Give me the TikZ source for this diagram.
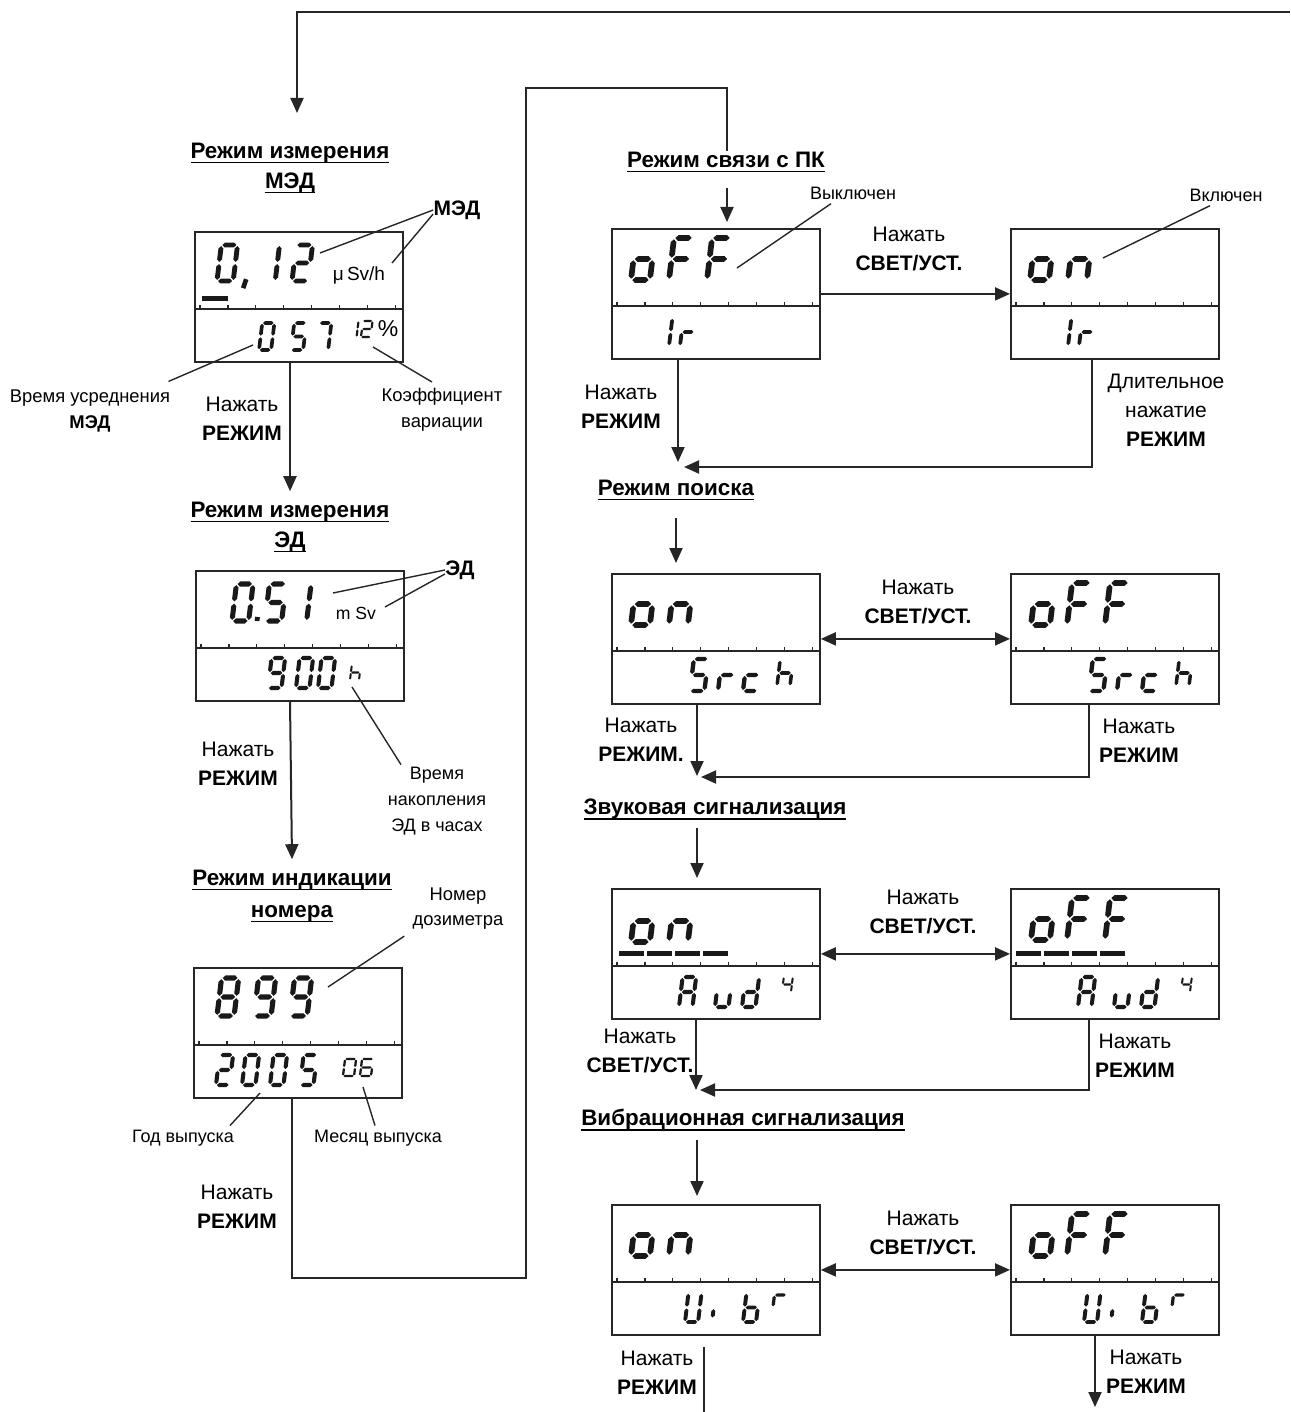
\documentclass[tikz,border=0pt]{standalone}
\usepackage{fontspec}
\setmainfont{Liberation Sans}
\usetikzlibrary{arrows.meta,calc}

\newcommand\myul[1]{\setbox0\hbox{#1}\leavevmode\rlap{\rule[-2.7pt]{\wd0}{0.9pt}}\box0}

% tapered LCD segments (units: width 1, height 2)
\newcommand\lcdHseg[1]{\fill[lcdfill] (\lcdgx,#1) -- (\lcdgx+\lcdhx,#1+\lcdhy) -- (1-\lcdgx-\lcdhx,#1+\lcdhy) -- (1-\lcdgx,#1) -- (1-\lcdgx-\lcdhx,#1-\lcdhy) -- (\lcdgx+\lcdhx,#1-\lcdhy) -- cycle;}
\newcommand\lcdVseg[3]{\fill[lcdfill] (#1,#2+\lcdgy) -- (#1+\lcdhx,#2+\lcdgy+\lcdhy) -- (#1+\lcdhx,#3-\lcdgy-\lcdhy) -- (#1,#3-\lcdgy) -- (#1-\lcdhx,#3-\lcdgy-\lcdhy) -- (#1-\lcdhx,#2+\lcdgy+\lcdhy) -- cycle;}
\def\lcdsega{\lcdHseg{2}}
\def\lcdsegd{\lcdHseg{0}}
\def\lcdsegg{\lcdHseg{1}}
\def\lcdsegb{\lcdVseg{1}{1}{2}}
\def\lcdsegc{\lcdVseg{1}{0}{1}}
\def\lcdsege{\lcdVseg{0}{0}{1}}
\def\lcdsegf{\lcdVseg{0}{1}{2}}
\def\lcdsegi{\lcdVseg{0}{0.25}{0.95}}
\def\lcdsegk{\draw[lcdst] (0,0.1)--(-0.12,-0.4);}
\def\lcdsegp{\draw[lcdst] (0,0)--(0,0.22);}

% [width factor]{box}{dx}{dy baseline}{height}{segments}
\newcommand\lcd[6][0.45]{%
  \pgfmathsetmacro\lcdux{#5*#1*0.5}%
  \pgfmathsetmacro\lcduy{#5*0.25}%
  \pgfmathsetmacro\lcdlw{#5*0.065}%
  \pgfmathsetmacro\lcdhx{0.068/#1}%
  \def\lcdhy{0.136}%
  \pgfmathsetmacro\lcdgx{0.03/#1}%
  \def\lcdgy{0.06}%
  \begin{scope}[shift={($(#2.north west)+(#3,#4)$)}, xslant=0.12, x=\lcdux pt, y=\lcduy pt, line width=\lcdlw pt]
    \foreach \s in {#6}{\csname lcdseg\s\endcsname}
  \end{scope}}

\newcommand\lcdbox[3]{%
  \node[lcdframe] (#1) at (#2,#3) {};
  \draw[lcddiv] ($(#1.north west)+(0,78)$) -- ($(#1.north east)+(0,78)$);
  \foreach \i in {0,...,7}{\draw[lcdtick] ($(#1.north west)+(6+\i*27.9,78)$) -- ++(0,-4);}
}

\tikzset{
  lcdframe/.style={draw=black!85, line width=0.9pt, minimum width=104pt, minimum height=65pt, inner sep=0pt, anchor=north west},
  lcddiv/.style={draw=black!85, line width=1.1pt},
  lcdtick/.style={draw=black!85, line width=0.6pt},
  lcdst/.style={draw=black!90, line cap=butt},
  lcdfill/.style={fill=black!90},
  lcdbar/.style={draw=black!90, line width=2.5pt},
  conn/.style={draw=black!85, line width=1pt},
  arr/.style={conn, -{Triangle[length=7.5pt,width=6.5pt]}},
  darr/.style={conn, {Triangle[length=7.5pt,width=6.5pt]}-{Triangle[length=7.5pt,width=6.5pt]}},
  lead/.style={draw=black!85, line width=0.7pt},
  act/.style={font=\fontsize{10.5}{14.5}\selectfont, align=center, inner sep=0pt},
  notetxt/.style={font=\fontsize{9.2}{13}\selectfont, align=center, inner sep=0pt},
  smalltxt/.style={font=\fontsize{9}{13}\selectfont, align=center, inner sep=0pt},
  ttl/.style={font=\bfseries\fontsize{11.2}{15}\selectfont, align=center, inner sep=0pt},
  bl/.style={font=\bfseries\fontsize{10.5}{14}\selectfont, inner sep=0pt},
}

\begin{document}
\begin{tikzpicture}[x=0.5pt, y=-0.5pt]
\useasboundingbox (0,0) rectangle (1290,1412);

% ---------------- left column ----------------
\node[ttl] (t1) at (290,168) {\myul{Режим измерения}\\\myul{МЭД}};
\lcdbox{m}{194}{231}
\lcd{m}{23}{50}{36}{a,b,c,d,e,f}
\lcd{m}{52}{50}{36}{k}
\lcd{m}{65}{50}{36}{b,c}
\lcd{m}{98}{50}{36}{a,b,g,e,d}
\draw[lcdbar] ($(m.north west)+(8,67)$) -- ($(m.north west)+(34,67)$);
\node[font=\fontsize{9.5}{11}\selectfont, inner sep=0pt] (uM) at (359,275) {μ\,Sv/h};
\lcd{m}{65}{119}{27}{a,b,c,d,e,f}
\lcd{m}{97}{119}{27}{a,f,g,c,d}
\lcd{m}{122}{119}{27}{a,b,c}
\lcd[0.6]{m}{153}{106}{16}{b,c}
\lcd[0.6]{m}{167}{106}{16}{a,b,g,e,d}
\node[font=\fontsize{11.5}{13}\selectfont, inner sep=0pt] (pc) at (388,329) {\%};

\node[bl] (lM) at (457,210) {МЭД};
\coordinate (pM1) at (320,253);
\coordinate (pM2) at (392,263);
\draw[lead] (lM.west) -- (pM1);
\draw[lead] ([yshift=-2pt]lM.west) -- (pM2);

\node[notetxt] (lVU) at (90,411) {Время усреднения\\\textbf{МЭД}};
\coordinate (pVU) at (253,345);
\draw[lead] (pVU) -- ($(lVU.north east)+(-2,-8)$);
\node[notetxt] (lKV) at (442,410) {Коэффициент\\вариации};
\coordinate (pKV) at (373,347);
\draw[lead] (pKV) -- ($(lKV.north)+(-10,-6)$);
\node[act] (a1) at (242,419) {Нажать\\\textbf{РЕЖИМ}};

\node[ttl] (t2) at (290,527) {\myul{Режим измерения}\\\myul{ЭД}};
\draw[arr] (m.south -| t2) -- ($(t2.north)+(0,-10)$);

\lcdbox{e}{195}{570}
\lcd{e}{37}{51}{37}{a,b,c,d,e,f}
\lcd{e}{62}{51}{37}{p}
\lcd{e}{70}{51}{37}{a,f,g,c,d}
\lcd{e}{95}{51}{37}{b,c}
\node[font=\fontsize{8.8}{10}\selectfont, inner sep=0pt] (uE) at (356,613) {m Sv};
\lcd{e}{73}{118}{30}{a,b,c,d,f,g}
\lcd{e}{101}{118}{30}{a,b,c,d,e,f}
\lcd{e}{123}{118}{30}{a,b,c,d,e,f}
\lcd[0.6]{e}{155}{110}{15}{f,e,g,c}

\node[bl] (lE) at (460,570) {ЭД};
\coordinate (pE1) at (333,593);
\coordinate (pE2) at (385,607);
\draw[lead] (lE.west) -- (pE1);
\draw[lead] ([yshift=-2pt]lE.west) -- (pE2);
\node[smalltxt] (lT) at (437,801) {Время\\накопления\\ЭД в часах};
\coordinate (pT) at (352,687);
\draw[lead] (pT) -- ($(lT.north)+(-36,-2)$);
\node[act] (a2) at (238,764) {Нажать\\\textbf{РЕЖИМ}};

\node[ttl, font=\bfseries\fontsize{11.2}{16}\selectfont] (t3) at (292,896) {\myul{Режим индикации}\\\myul{номера}};
\draw[arr] (e.south -| t2) -- ($(t3.north)+(0,-10)$);

\lcdbox{n}{193}{967}
\lcd{n}{24}{49}{38}{a,b,c,d,e,f,g}
\lcd{n}{61}{49}{38}{a,b,c,d,f,g}
\lcd{n}{97}{49}{38}{a,b,c,d,f,g}
\lcd{n}{23}{118}{30}{a,b,g,e,d}
\lcd{n}{49}{118}{30}{a,b,c,d,e,f}
\lcd{n}{77}{118}{30}{a,b,c,d,e,f}
\lcd{n}{107}{118}{30}{a,f,g,c,d}
\lcd[0.65]{n}{150}{109}{17}{a,b,c,d,e,f}
\lcd[0.65]{n}{167}{109}{17}{a,f,g,e,c,d}

\node[notetxt, font=\fontsize{9.2}{12.5}\selectfont] (lNd) at (458,909) {Номер\\дозиметра};
\coordinate (pNd) at (328,987);
\draw[lead] (pNd) -- ($(lNd.south west)+(-8,6)$);
\node[smalltxt] (lG) at (183,1138) {Год выпуска};
\coordinate (pG) at (260,1093);
\draw[lead] (pG) -- ($(lG.north)+(47,-4)$);
\node[smalltxt] (lMs) at (378,1138) {Месяц выпуска};
\coordinate (pMs) at (363,1087);
\draw[lead] (pMs) -- ($(lMs.north)+(-3,-4)$);
\node[act] (a3) at (237,1207) {Нажать\\\textbf{РЕЖИМ}};

% ---------------- loop connectors ----------------
\coordinate (loopR) at (1290,12);
\coordinate (loopL) at (297,113);
\draw[arr] (loopR) -| (loopL);

\node[ttl] (t4) at (726,162) {\myul{Режим связи с ПК}};
\coordinate (b1) at (526,1278);
\coordinate (b2) at (727,88);
\draw[conn] (n.south -| t3) |- (b1) |- (b2) -- (t4.north -| b2);

% ---------------- right column ----------------
% row 1
\lcdbox{p1l}{611}{228}
\lcdbox{p1r}{1010}{228}
\coordinate (c1) at (727,188);
\draw[arr] (c1) -- ($(p1l.north -| c1)+(0,-6)$);
\lcd{p1l}{20}{52}{42}{g,c,d,e}
\lcd{p1l}{58}{52}{42}{a,f,g,e}
\lcd{p1l}{96}{52}{42}{a,f,g,e}
\lcd{p1l}{58}{118}{28}{e,f}
\lcd{p1l}{69}{118}{28}{e,g}
\lcd{p1r}{20}{52}{42}{g,c,d,e}
\lcd{p1r}{58}{52}{42}{e,g,c}
\lcd{p1r}{58}{118}{28}{e,f}
\lcd{p1r}{69}{118}{28}{e,g}
\draw[arr] (p1l.east) -- (p1r.west);
\node[act] (a4) at (909,249) {Нажать\\\textbf{СВЕТ/УСТ.}};
\node[smalltxt] (lOff) at (853,193) {Выключен};
\coordinate (pOff) at (737,268);
\draw[lead] ($(lOff.south)+(-22,4)$) -- (pOff);
\node[smalltxt] (lOn) at (1226,195) {Включен};
\coordinate (pOn) at (1103,258);
\draw[lead] ($(lOn.south)+(-16,4)$) -- (pOn);

\coordinate (d1) at (678,462);
\draw[arr] (p1l.south -| d1) -- (d1);
\coordinate (r1) at (1092,467);
\coordinate (d1b) at (684,467);
\draw[arr] (p1r.south -| r1) |- (d1b);
\node[act] (a5) at (621,407) {Нажать\\\textbf{РЕЖИМ}};
\node[act] (a6) at (1166,410) {Длительное\\нажатие\\\textbf{РЕЖИМ}};

% row 2
\node[ttl] (t5) at (676,490) {\myul{Режим поиска}};
\lcdbox{p2l}{611}{573}
\lcdbox{p2r}{1010}{573}
\coordinate (c2) at (676,518);
\draw[arr] (c2) -- ($(p2l.north -| c2)+(0,-10)$);
\lcd{p2l}{20}{52}{42}{g,c,d,e}
\lcd{p2l}{58}{52}{42}{e,g,c}
\lcd{p2l}{79}{118}{32}{a,f,g,c,d}
\lcd{p2l}{107}{118}{32}{e,g}
\lcd{p2l}{132}{118}{32}{g,e,d}
\lcd[0.5]{p2l}{166}{113}{26}{f,e,g,c}
\lcd{p2r}{21}{52}{42}{g,c,d,e}
\lcd{p2r}{57}{52}{42}{a,f,g,e}
\lcd{p2r}{95}{52}{42}{a,f,g,e}
\lcd{p2r}{79}{118}{32}{a,f,g,c,d}
\lcd{p2r}{107}{118}{32}{e,g}
\lcd{p2r}{132}{118}{32}{g,e,d}
\lcd[0.5]{p2r}{166}{113}{26}{f,e,g,c}
\draw[darr] (p2l.east) -- (p2r.west);
\node[act] (a7) at (918,602) {Нажать\\\textbf{СВЕТ/УСТ.}};
\coordinate (d2) at (697,776);
\draw[arr] (p2l.south -| d2) -- (d2);
\coordinate (r2) at (1089,777);
\coordinate (d2b) at (701,777);
\draw[arr] (p2r.south -| r2) |- (d2b);
\node[act] (a8) at (641,740) {Нажать\\\textbf{РЕЖИМ.}};
\node[act] (a9) at (1139,741) {Нажать\\\textbf{РЕЖИМ}};

% row 3
\node[ttl] (t6) at (715,809) {\myul{Звуковая сигнализация}};
\lcdbox{p3l}{611}{888}
\lcdbox{p3r}{1010}{888}
\coordinate (c3) at (697,828);
\draw[arr] (c3) -- ($(p3l.north -| c3)+(0,-10)$);
\lcd{p3l}{20}{54}{42}{g,c,d,e}
\lcd{p3l}{58}{54}{42}{e,g,c}
\foreach \k in {0,1,2,3}{\draw[lcdbar] ($(p3l.north west)+(8+\k*28,65)$) -- ++(25,0);}
\lcd{p3l}{68}{119}{30}{a,b,c,e,f,g}
\lcd{p3l}{104}{119}{30}{e,d,c}
\lcd{p3l}{131}{119}{30}{b,c,d,e,g}
\lcd[0.6]{p3l}{171}{104}{15}{f,g,b,c}
\lcd{p3r}{21}{52}{42}{g,c,d,e}
\lcd{p3r}{57}{52}{42}{a,f,g,e}
\lcd{p3r}{95}{52}{42}{a,f,g,e}
\foreach \k in {0,1,2,3}{\draw[lcdbar] ($(p3r.north west)+(6+\k*28,65)$) -- ++(25,0);}
\lcd{p3r}{68}{119}{30}{a,b,c,e,f,g}
\lcd{p3r}{104}{119}{30}{e,d,c}
\lcd{p3r}{131}{119}{30}{b,c,d,e,g}
\lcd[0.6]{p3r}{171}{104}{15}{f,g,b,c}
\draw[darr] (p3l.east) -- (p3r.west);
\node[act] (a10) at (923,912) {Нажать\\\textbf{СВЕТ/УСТ.}};
\coordinate (d3) at (696,1090);
\draw[arr] (p3l.south -| d3) -- (d3);
\coordinate (r3) at (1089,1090);
\coordinate (d3b) at (700,1090);
\draw[arr] (p3r.south -| r3) |- (d3b);
\node[act] (a11) at (640,1051) {Нажать\\\textbf{СВЕТ/УСТ.}};
\node[act] (a12) at (1135,1056) {Нажать\\\textbf{РЕЖИМ}};

% row 4
\node[ttl] (t7) at (743,1120) {\myul{Вибрационная сигнализация}};
\lcdbox{p4l}{611}{1204}
\lcdbox{p4r}{1010}{1204}
\coordinate (c4) at (697,1140);
\draw[arr] (c4) -- ($(p4l.north -| c4)+(0,-8)$);
\lcd{p4l}{20}{52}{42}{g,c,d,e}
\lcd{p4l}{58}{52}{42}{e,g,c}
\lcd{p4l}{74}{118}{29}{b,c,d,e,f}
\lcd{p4l}{101}{118}{29}{i}
\lcd{p4l}{132}{118}{29}{f,e,d,c,g}
\lcd[0.5]{p4l}{162}{103}{24}{e,g}
\lcd{p4r}{21}{52}{42}{g,c,d,e}
\lcd{p4r}{57}{52}{42}{a,f,g,e}
\lcd{p4r}{95}{52}{42}{a,f,g,e}
\lcd{p4r}{74}{118}{29}{b,c,d,e,f}
\lcd{p4r}{101}{118}{29}{i}
\lcd{p4r}{132}{118}{29}{f,e,d,c,g}
\lcd[0.5]{p4r}{162}{103}{24}{e,g}
\draw[darr] (p4l.east) -- (p4r.west);
\node[act] (a13) at (923,1233) {Нажать\\\textbf{СВЕТ/УСТ.}};
\coordinate (e4a) at (704,1347);
\coordinate (e4b) at (704,1412);
\draw[conn] (e4a) -- (e4b);
\coordinate (e4r) at (1095,1407);
\draw[arr] (p4r.south -| e4r) -- (e4r);
\node[act] (a14) at (657,1373) {Нажать\\\textbf{РЕЖИМ}};
\node[act] (a15) at (1146,1372) {Нажать\\\textbf{РЕЖИМ}};
\end{tikzpicture}
\end{document}
